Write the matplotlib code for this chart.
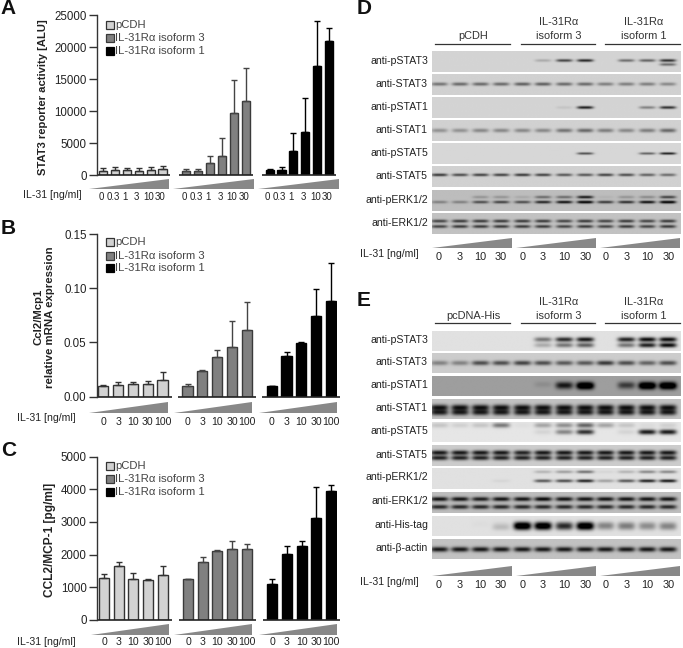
import numpy as np
import matplotlib
matplotlib.use('Agg')
import matplotlib.pyplot as plt
from matplotlib.transforms import ScaledTranslation

plt.rcParams['font.family'] = ['Liberation Sans', 'DejaVu Sans']
W, H = 683, 648

# ---- bar data ----
grp_names = ['pCDH', 'IL-31R\u03b1 isoform 3', 'IL-31R\u03b1 isoform 1']
doses_a = ['0', '0.3', '1', '3', '10', '30']
doses_bc = ['0', '3', '10', '30', '100']
doses_blot = ['0', '3', '10', '30']

a_ctrl = [700, 800, 750, 700, 850, 950]
a_iso3 = [600, 700, 1800, 3000, 9700, 11600]
a_iso1 = [800, 850, 3700, 6700, 17100, 21000]
a_ctrl_top = [1050, 1200, 1150, 1100, 1300, 1450]
a_iso3_top = [950, 950, 3000, 5800, 14800, 16700]
a_iso1_top = [950, 1250, 6500, 12000, 24000, 23000]

b_ctrl = [0.0098, 0.0112, 0.012, 0.012, 0.015]
b_iso3 = [0.0095, 0.0235, 0.0365, 0.0455, 0.0615]
b_iso1 = [0.0098, 0.0375, 0.0495, 0.074, 0.088]
b_ctrl_top = [0.0105, 0.014, 0.0135, 0.0148, 0.023]
b_iso3_top = [0.012, 0.0245, 0.0435, 0.0695, 0.087]
b_iso1_top = [0.0102, 0.041, 0.050, 0.099, 0.123]

c_ctrl = [1270, 1640, 1250, 1230, 1360]
c_iso3 = [1240, 1770, 2100, 2180, 2170]
c_iso1 = [1100, 2010, 2270, 3130, 3950]
c_ctrl_top = [1400, 1770, 1430, 1240, 1640]
c_iso3_top = [1260, 1920, 2130, 2400, 2320]
c_iso1_top = [1250, 2260, 2420, 4070, 4130]

# ---- blot data: darkness of each band in the 12 lanes ----
d_names = ['anti-pSTAT3', 'anti-STAT3', 'anti-pSTAT1', 'anti-STAT1',
           'anti-pSTAT5', 'anti-STAT5', 'anti-pERK1/2', 'anti-ERK1/2']
d_bg = [.83, .82, .83, .82, .84, .82, .74, .76]
d_bands = [
    [[0, 0, 0, 0, 0, .2, .7, .85, 0, .5, .55, .8], [0, 0, 0, 0, 0, 0, 0, 0, 0, 0, 0, .5]],
    [[.45, .5, .5, .5, .55, .55, .5, .5, .4, .4, .4, .35]],
    [[0, 0, 0, 0, 0, 0, .08, .9, 0, 0, .4, .8]],
    [[.3, .3, .35, .35, .35, .35, .45, .5, .4, .35, .4, .5]],
    [[0, 0, 0, 0, 0, 0, 0, .7, 0, 0, .6, .95]],
    [[.75, .65, .7, .7, .75, .7, .6, .6, .7, .65, .55, .5]],
    [[0, 0, .2, .2, .1, .4, .4, .8, .05, .2, .25, .6],
     [.3, .3, .55, .6, .55, .75, .85, 1, .65, .7, .85, 1]],
    [[.6, .65, .65, .65, .65, .65, .6, .65, .6, .65, .6, .65],
     [.6, .65, .65, .65, .65, .65, .6, .65, .6, .65, .6, .65]],
]
d_band_y = [[.45, .65], [.48], [.5], [.5], [.5], [.42], [.33, .58], [.38, .65]]

e_names = ['anti-pSTAT3', 'anti-STAT3', 'anti-pSTAT1', 'anti-STAT1', 'anti-pSTAT5',
           'anti-STAT5', 'anti-pERK1/2', 'anti-ERK1/2', 'anti-His-tag', 'anti-\u03b2-actin']
e_bg = [.88, .80, .62, .76, .90, .80, .88, .74, .88, .76]
e_bands = [
    [[0, 0, 0, 0, 0, .5, .85, .95, 0, .9, 1, 1], [0, 0, 0, 0, 0, .25, .5, .6, 0, .5, .9, 1]],
    [[.35, .35, .6, .6, .65, .6, .55, .55, .7, .6, .5, .6]],
    [[0, 0, 0, 0, 0, .08, .45, .65, 0, .35, .65, .65], [0, 0, 0, 0, 0, 0, .3, .65, 0, .2, .65, .65]],
    [[.8, .8, .8, .8, .8, .8, .8, .8, .8, .8, .8, .8],
     [.75, .75, .75, .75, .75, .75, .75, .75, .75, .75, .75, .75]],
    [[.15, .1, .15, .5, .03, .3, .4, .6, .3, .15, .05, .1],
     [0, 0, 0, 0, 0, .08, .45, .85, 0, .08, .95, .95]],
    [[.85, .85, .85, .85, .8, .85, .85, .85, .85, .85, .85, .85],
     [.8, .8, .8, .8, .8, .8, .8, .8, .8, .8, .8, .8]],
    [[0, 0, 0, 0, 0, .2, .3, .5, .05, .2, .4, .4],
     [0, 0, 0, .05, 0, .65, .7, .9, .3, .65, .9, .95]],
    [[.8, .8, .75, .8, .8, .85, .8, .8, .8, .8, .8, .8],
     [.7, .7, .7, .7, .7, .7, .7, .7, .7, .7, .7, .7]],
    [[0, 0, .02, .06, .9, .85, .55, .85, .3, .3, .25, .25],
     [0, 0, 0, .15, .85, .8, .55, .85, .25, .3, .25, .3]],
    [[.8, .8, .8, .8, .8, .8, .8, .8, .8, .8, .8, .8]],
]
e_band_y = [[.42, .72], [.5], [.42, .55], [.42, .68], [.15, .5], [.36, .62],
            [.17, .62], [.33, .72], [.42, .58], [.52]]

# ---- layout in pixels ----
fill = ['#d2d2d2', '#808080', '#000000']
edge = ['#333333', '#3a3a3a', '#000000']
err_col = ['#333333', '#444444', '#000000']

fig = plt.figure(figsize=(W / 100, H / 100), dpi=100)
ov = fig.add_axes([0, 0, 1, 1], zorder=0)
ov.set_xlim(0, W)
ov.set_ylim(H, 0)
ov.axis('off')


def wedge(x0, x1, y0, y1):
    ov.fill([x0, x1, x1], [y1, y1, y0], color='#888888', lw=0)


def bars(y0_px, ytop_px, ymax, yticks, ticklabels, labels, groups, tops, step_px, first_px,
         gap, baseline_end, tick_pad, tick_fs, tick_shift, wedges, wedge_y, label_xy, leg_y,
         ylab_x, ylab_y, ylab, ylab_fs):
    left = 97
    n = len(labels)
    xlim0 = (left - first_px) / step_px
    xlim1 = xlim0 + (baseline_end - left) / step_px
    ax = fig.add_axes([left / W, 1 - y0_px / H, (baseline_end - left) / W, (y0_px - ytop_px) / H], zorder=2)
    ax.patch.set_alpha(0)
    ax.set_xlim(xlim0, xlim1)
    ax.set_ylim(0, ymax)
    pos, labs = [], []
    for g in range(3):
        x = np.arange(n) + g * gap
        v = np.array(groups[g])
        t = np.array(tops[g])
        ax.bar(x, v, 0.68, color=fill[g], edgecolor=edge[g], linewidth=1.0)
        ax.errorbar(x, v, yerr=[np.zeros(n), t - v], fmt='none', ecolor=err_col[g],
                    elinewidth=1.0, capsize=2.4, capthick=1.0)
        pos += list(x)
        labs += labels
    ax.spines['top'].set_visible(False)
    ax.spines['right'].set_visible(False)
    ax.spines['bottom'].set_visible(False)
    ax.spines['left'].set_linewidth(1.0)
    ax.spines['left'].set_color('#333333')
    # broken baseline under each group
    for g in range(3):
        ax.plot([xlim0 if g == 0 else g * gap - 0.65, g * gap + n - 1 + 0.62], [0, 0],
                color='#222222', lw=1.2, clip_on=False, solid_capstyle='butt')
    ax.set_yticks(yticks)
    ax.set_yticklabels(ticklabels, fontsize=8.3, color='#222222')
    ax.tick_params(axis='y', length=5.5, width=1.0, color='#333333', pad=2)
    ax.set_xticks(pos)
    ax.set_xticklabels(labs, fontsize=tick_fs, color='#222222')
    ax.tick_params(axis='x', length=0, pad=tick_pad)
    if tick_shift:
        off = ScaledTranslation(tick_shift / 100, 0, fig.dpi_scale_trans)
        for lab in ax.get_xticklabels():
            lab.set_transform(lab.get_transform() + off)
    for x0, x1 in wedges:
        wedge(x0, x1, wedge_y[0], wedge_y[1])
    ov.text(label_xy[0], label_xy[1], 'IL-31 [ng/ml]', fontsize=7.6, color='#222222', va='center')
    for i, name in enumerate(grp_names):
        ov.add_patch(plt.Rectangle((105.5, leg_y[i] - 4), 8, 8, facecolor=fill[i],
                                   edgecolor=edge[i], lw=0.9))
        ov.text(115, leg_y[i], name, fontsize=8.1, color='#444444', va='center')
    for i, s in enumerate(ylab):
        ov.text(ylab_x[i], ylab_y, s, rotation=90, fontsize=ylab_fs, fontweight='bold',
                color='#222222', ha='center', va='center')


bars(175, 15, 25000, [0, 5000, 10000, 15000, 20000, 25000],
     ['0', '5000', '10000', '15000', '20000', '25000'], doses_a,
     [a_ctrl, a_iso3, a_iso1], [a_ctrl_top, a_iso3_top, a_iso1_top],
     11.9, 103, 7, 335, 12.5, 7.0, -2, [(89, 169), (173, 254), (258, 339)], (179, 189),
     (23, 195), [25, 38, 51], [43], 97, ['STAT3 reporter activity [ALU]'], 8.1)

bars(396.7, 234, 0.15, [0, 0.05, 0.10, 0.15], ['0.00', '0.05', '0.10', '0.15'], doses_bc,
     [b_ctrl, b_iso3, b_iso1], [b_ctrl_top, b_iso3_top, b_iso1_top],
     14.8, 103.3, 5.69, 337, 14.8, 7.6, 0, [(89, 168), (174, 252), (259, 337)], (402, 413),
     (17, 418), [242, 256, 268], [38, 50], 317, ['Ccl2/Mcp1', 'relative mRNA expression'], 8.2)

bars(619.7, 456.7, 5000, [0, 1000, 2000, 3000, 4000, 5000],
     ['0', '1000', '2000', '3000', '4000', '5000'], doses_bc,
     [c_ctrl, c_iso3, c_iso1], [c_ctrl_top, c_iso3_top, c_iso1_top],
     14.7, 104, 5.72, 337, 12.8, 7.6, 0, [(91, 169), (174, 252), (259, 337)], (624, 635),
     (17, 642), [466, 479, 492], [50], 540, ['CCL2/MCP-1 [pg/ml]'], 8.6)

# ---- blots ----
lane_x = (np.array([267, 329, 391, 453, 517, 579, 643, 706, 767, 830, 893, 955]) / 3) + 350
blot_x0, blot_x1 = 432, 681


def blot(y0, y1, bg, bands, band_y, sigma, half):
    xs = np.arange(blot_x0, blot_x1 + 1)
    ys = np.arange(y0, y1 + 1)
    img = np.full((len(ys), len(xs)), float(bg))
    for row, by in zip(bands, band_y):
        for lx, d in zip(lane_x, row):
            prof_x = np.exp(-((xs - lx) / half) ** 4)
            prof_y = np.exp(-((ys - (y0 + by * (y1 - y0))) / sigma) ** 2)
            img -= d * 0.85 * np.outer(prof_y, prof_x)
    ov.imshow(np.clip(img, 0, 1), cmap='gray', vmin=0, vmax=1, aspect='auto', interpolation='bilinear',
              extent=[blot_x0, blot_x1, y1, y0], zorder=1)


d_rows = [(51, 72), (74, 95), (97, 118), (120, 141), (143, 164), (166, 187), (190, 211), (213, 234)]
e_rows = [(331, 351), (353, 373), (376, 396), (399, 419), (422, 442), (445, 466), (468, 489),
          (492, 513), (516, 536), (539, 559)]
d_sigma = [1.4, 1.7, 1.4, 2.0, 1.1, 1.4, 1.4, 1.6]
e_sigma = [2.4, 2.4, 3.2, 3.0, 2.6, 2.4, 1.6, 2.2, 3.2, 2.6]

for i, (y0, y1) in enumerate(d_rows):
    blot(y0, y1, d_bg[i], d_bands[i], d_band_y[i], d_sigma[i], 8.2)
    ov.text(428, (y0 + y1) / 2 - 0.5, d_names[i], fontsize=7.6, color='#222222', ha='right', va='center')
for i, (y0, y1) in enumerate(e_rows):
    blot(y0, y1, e_bg[i], e_bands[i], e_band_y[i], e_sigma[i], 8.8)
    ov.text(428, (y0 + y1) / 2 - 1, e_names[i], fontsize=7.6, color='#222222', ha='right', va='center')
ov.set_xlim(0, W)
ov.set_ylim(H, 0)


def blot_head(names, line_y, t1, t2):
    for (x0, x1), nm in zip([(435, 510), (521, 595), (605, 680)], names):
        ov.plot([x0, x1], [line_y, line_y], color='#333333', lw=0.9)
        xc = (x0 + x1) / 2 + 1
        if len(nm) == 2:
            ov.text(xc, t1, nm[0], fontsize=7.9, color='#333333', ha='center', va='center')
            ov.text(xc, t2, nm[1], fontsize=7.9, color='#333333', ha='center', va='center')
        else:
            ov.text(xc, t2, nm[0], fontsize=7.9, color='#333333', ha='center', va='center')


blot_head([['pCDH'], ['IL-31R\u03b1', 'isoform 3'], ['IL-31R\u03b1', 'isoform 1']], 43.5, 22, 36)
blot_head([['pcDNA-His'], ['IL-31R\u03b1', 'isoform 3'], ['IL-31R\u03b1', 'isoform 1']], 322.5, 302, 316)

for wy, ty, ly in [((238, 248), 257, 254), ((566, 576), 585, 582)]:
    for x0, x1 in [(432, 512), (516, 596), (600, 680)]:
        wedge(x0, x1, wy[0], wy[1])
    ov.text(360, ly, 'IL-31 [ng/ml]', fontsize=7.6, color='#222222', va='center')
    for k, lx in enumerate(lane_x):
        ov.text(lx, ty, doses_blot[k % 4], fontsize=7.8, color='#222222', ha='center', va='center')

# panel letters
for s, x, y in [('A', 0, 9), ('B', 1, 228), ('C', 1, 451), ('D', 357, 9), ('E', 357, 301)]:
    ov.text(x, y, s, fontsize=15, fontweight='bold', color='#111111', va='center')

fig.savefig('out.png', dpi=100)
